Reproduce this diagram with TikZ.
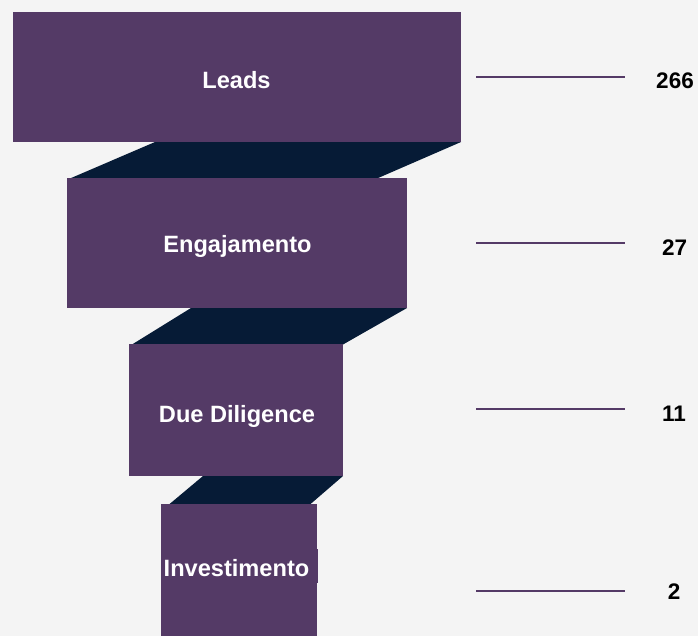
\documentclass[tikz,border=0pt]{standalone}
\usepackage{fontspec}
\setmainfont{Liberation Sans}
\definecolor{bgc}{HTML}{F4F4F4}
\definecolor{plum}{HTML}{543A66}
\definecolor{navy}{HTML}{061B36}
\tikzset{
  stage/.style={fill=plum, draw=none, inner sep=0pt},
  link/.style={fill=navy, draw=none},
  lab/.style={text=white, font=\bfseries\fontsize{23.6}{27}\selectfont, inner sep=0pt, anchor=base},
  tick/.style={draw=plum, line width=1.6pt},
  num/.style={text=black, font=\bfseries\fontsize{22.5}{26}\selectfont, inner sep=0pt, anchor=base}
}
\begin{document}
\begin{tikzpicture}[x=1pt,y=-1pt]
\useasboundingbox (0,0) rectangle (698,636);
\fill[bgc] (0,0) rectangle (698,636);
% connectors
\fill[link] (155,142) -- (461,142) -- (377,178.5) -- (70,178.5) -- cycle;
\fill[link] (191,308) -- (407,308) -- (343,344.5) -- (132,344.5) -- cycle;
\fill[link] (203,476) -- (343,476) -- (310,504.5) -- (169,504.5) -- cycle;
% stages
\node[stage, minimum width=448pt, minimum height=130pt] (s1) at (237,77) {};
\node[stage, minimum width=340pt, minimum height=130pt] (s2) at (237,243) {};
\node[stage, minimum width=214pt, minimum height=132pt] (s3) at (236,410) {};
\node[stage, minimum width=156pt, minimum height=132pt] (s4) at (239,570) {};
\fill[plum] (161,549) rectangle (318,583);
% labels
\node[lab] (l1) at (236.5,89) {Leads};
\node[lab] (l2) at (237.5,252.5) {Engajamento};
\node[lab] (l3) at (237,422) {Due Diligence};
\node[lab] (l4) at (236.5,576) {Investimento};
% ticks and numbers
\coordinate (a1) at (476,77);  \coordinate (b1) at (625,77);
\coordinate (a2) at (476,243); \coordinate (b2) at (625,243);
\coordinate (a3) at (476,409); \coordinate (b3) at (625,409);
\coordinate (a4) at (476,591); \coordinate (b4) at (625,591);
\draw[tick] (a1) -- (b1);
\draw[tick] (a2) -- (b2);
\draw[tick] (a3) -- (b3);
\draw[tick] (a4) -- (b4);
\node[num] (n1) at (675,89) {266};
\node[num] (n2) at (674.7,255) {27};
\node[num] (n3) at (674,421.7) {11};
\node[num] (n4) at (674,599.3) {2};
\end{tikzpicture}
\end{document}
